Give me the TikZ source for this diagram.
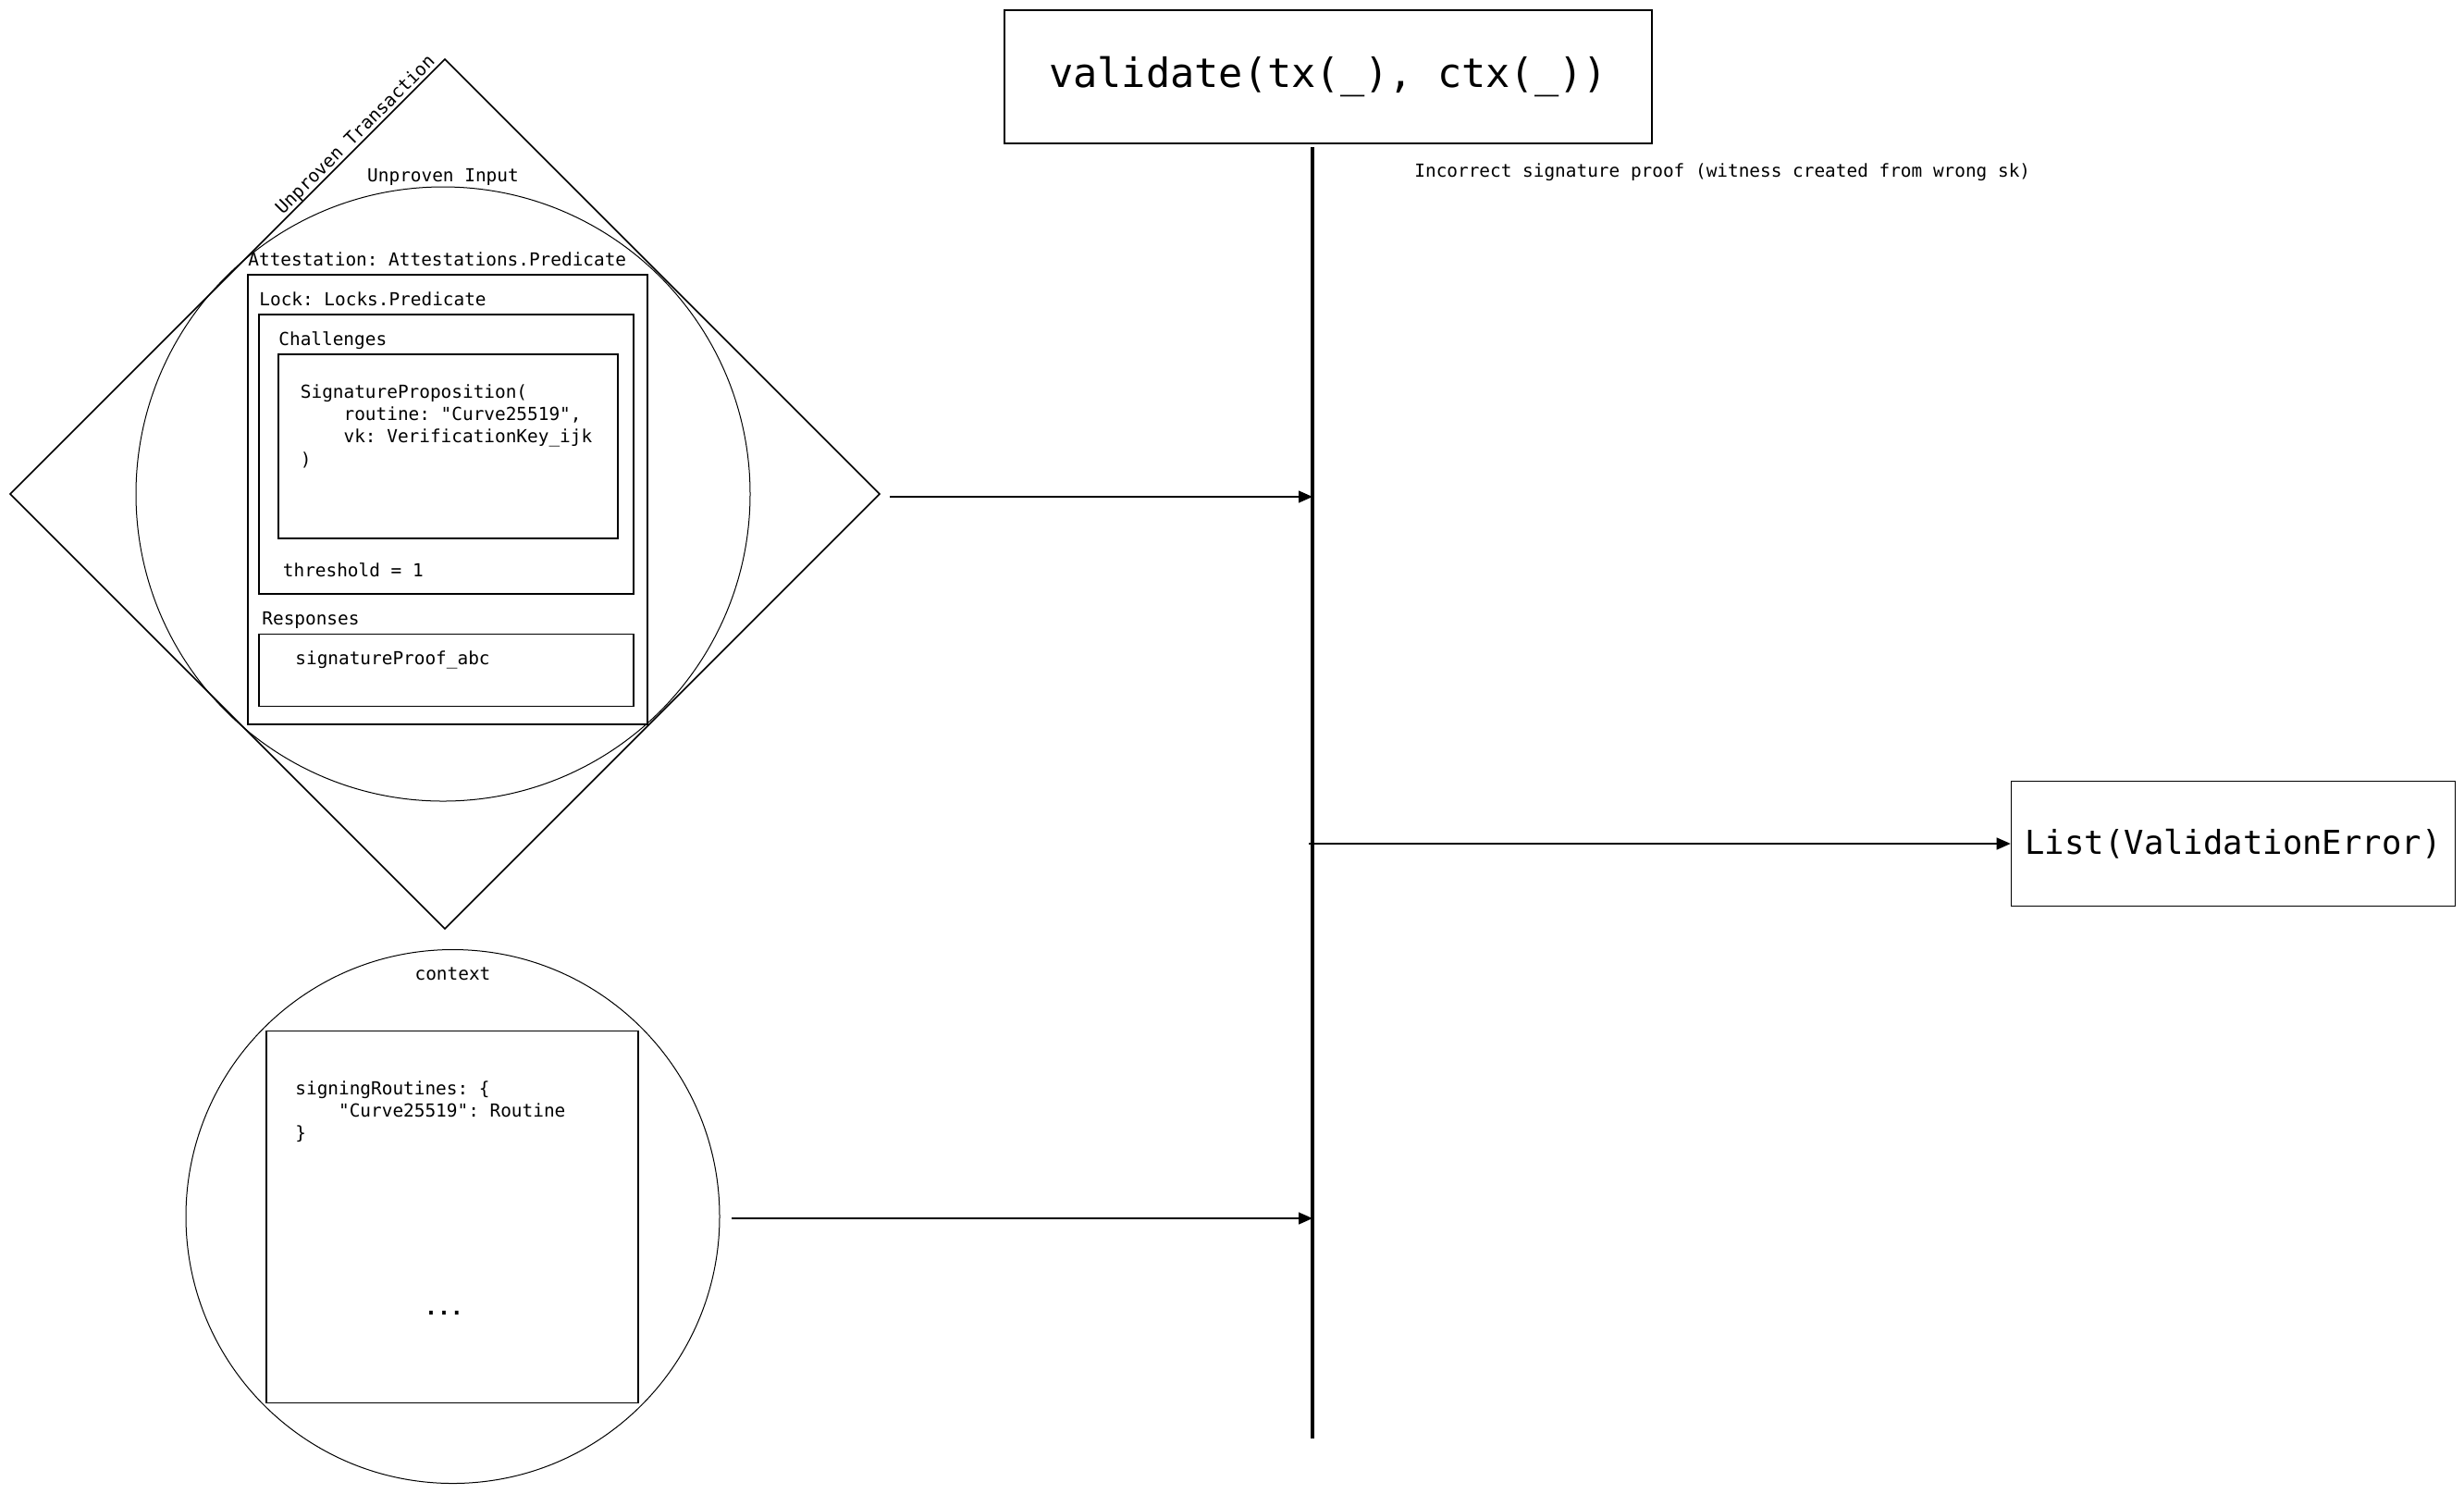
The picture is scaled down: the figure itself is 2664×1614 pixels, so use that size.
\documentclass[tikz,border=0pt]{standalone}
\usepackage{fontspec}
\setmonofont{DejaVu Sans Mono}
\usetikzlibrary{shapes.geometric,positioning,arrows.meta}

\begin{document}
\begin{tikzpicture}[x=0.5pt, y=-0.5pt,
    every node/.style={font=\ttfamily\fontsize{9.7pt}{12.2pt}\selectfont},
    box/.style={draw, line width=0.8pt, inner sep=0pt, outer sep=0pt, anchor=north west},
    ring/.style={circle, draw, line width=0.5pt, inner sep=0pt, outer sep=0pt},
    lbl/.style={anchor=base west, inner sep=0pt, yshift=5pt},
    txt/.style={anchor=base west, inner sep=0pt},
    code/.style={anchor=north west, inner sep=0pt, align=left},
    big/.style={draw, line width=0.8pt, inner sep=0pt},
    arr/.style={line width=0.6pt, -{Triangle[length=7.5pt,width=6.5pt]}}]
  \useasboundingbox (0,0) rectangle (2664,1614);

  % unproven transaction
  \node[diamond, draw, line width=0.8pt, minimum size=470pt, inner sep=0pt, outer sep=0pt] (tx) at (481,534) {};
  \path (tx.west) -- (tx.north) node[pos=0.81, sloped, above, inner sep=0pt] (txl) {Unproven Transaction};
  \node[ring, minimum size=332pt] (inp) at (479,534) {};
  \node[anchor=base, inner sep=0pt, yshift=3pt] (inpl) at (inp.north) {Unproven Input};

  \node[box, minimum width=216pt, minimum height=243pt] (att) at (268,297) {};
  \node[lbl] (attl) at (att.north west) {Attestation: Attestations.Predicate};
  \node[box, minimum width=202.5pt, minimum height=151pt] (lock) at (280,340) {};
  \node[lbl] (lockl) at (lock.north west) {Lock: Locks.Predicate};
  \node[box, minimum width=183.5pt, minimum height=99.5pt] (chal) at (301,383) {};
  \node[lbl] (chall) at (chal.north west) {Challenges};
  \node[code] (prop) at (324.5,415) {SignatureProposition(\\
      \phantom{xxxx}routine: "Curve25519",\\
      \phantom{xxxx}vk: VerificationKey\_ijk\\
      )};
  \node[txt] (thr) at (305.5,623.5) {threshold = 1};
  \node[box, minimum width=202.5pt, minimum height=39pt] (resp) at (280,685.5) {};
  \node[lbl, xshift=1.5pt] (respl) at (resp.north west) {Responses};
  \node[txt] (proof) at (319,718) {signatureProof\_abc};

  % context
  \node[ring, minimum size=288.5pt] (ctx) at (489.5,1315) {};
  \node[anchor=base, inner sep=0pt, yshift=-16.5pt] (ctxl) at (ctx.north) {context};
  \node[box, minimum width=201pt, minimum height=201pt] (ctxb) at (288,1114.5) {};
  \node[code] (rout) at (319,1168) {signingRoutines: \{\\
      \phantom{xxxx}"Curve25519": Routine\\
      \}};
  \node[anchor=base, inner sep=0pt, font=\ttfamily\bfseries\fontsize{11.6pt}{14pt}\selectfont] (dots) at (480,1421) {...};

  % validation
  \node[big, minimum width=350pt, minimum height=72pt,
        font=\ttfamily\fontsize{21.8pt}{26pt}\selectfont] (val) at (1436,83) {validate(tx(\_), ctx(\_))};
  \coordinate (bartop) at (1419,159);
  \coordinate (barbot) at (1419,1555);
  \draw[line width=2.1pt] (bartop) -- (barbot);
  \node[txt] (err) at (1529,191) {Incorrect signature proof (witness created from wrong sk)};
  \node[big, minimum width=240pt, minimum height=67.5pt,
        font=\ttfamily\fontsize{17.8pt}{21pt}\selectfont] (lst) at (2414.5,912) {List(ValidationError)};

  \draw[arr] ([xshift=5.5pt,yshift=-1.5pt]tx.east) -- ([yshift=-1.5pt]tx.east -| bartop);
  \draw[arr] ([xshift=6.5pt,yshift=-1pt]ctx.east) -- ([yshift=-1pt]ctx.east -| bartop);
  \draw[arr] ([xshift=-2pt]bartop |- lst.west) -- (lst.west);
\end{tikzpicture}
\end{document}
